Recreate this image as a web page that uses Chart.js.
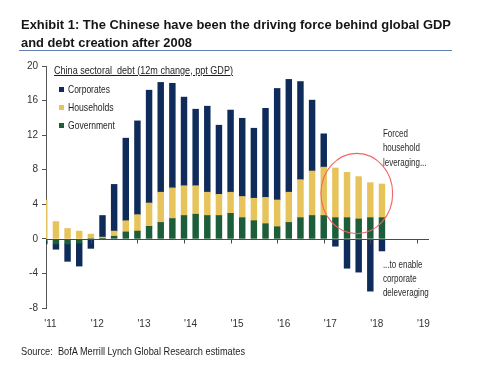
<!DOCTYPE html>
<html><head><meta charset="utf-8">
<script src="https://cdn.jsdelivr.net/npm/chart.js@4.4.1/dist/chart.umd.min.js"></script>
<style>
html,body{margin:0;padding:0;background:#fff;overflow:hidden}
#wrap{position:relative;width:485px;height:365px;background:#fff}
canvas{position:absolute;left:0;top:0}
.t{position:absolute;white-space:pre;transform-origin:0 0;line-height:1;font-family:'Liberation Sans Narrow','Arial Narrow','Liberation Sans',Arial,sans-serif;color:#1e1e1e}
.sq{position:absolute;width:5.3px;height:5.3px}
#rule{position:absolute;left:19px;top:49.5px;width:433px;height:1.5px;background:#6282b6}
</style></head><body>
<div id="wrap">
<canvas id="c" width="485" height="365"></canvas>
<div class="t" id="title1" style="left:20.7px;top:17.6px;font-size:13.5px;font-weight:bold;color:#161616">Exhibit 1: The Chinese have been the driving force behind global GDP</div>
<div class="t" id="title2" style="left:20.7px;top:35.6px;font-size:13.5px;font-weight:bold;color:#161616">and debt creation after 2008</div>
<div id="rule"></div>
<div class="t" id="sub" style="left:54.3px;top:64.7px;font-size:11px;text-decoration:underline">China sectoral  debt (12m change, ppt GDP)</div>
<div id="legend"></div>
<div class="t" id="src" style="left:20.7px;top:346.1px;font-size:10.5px">Source:  BofA Merrill Lynch Global Research estimates</div>
</div>
<script>
// ---- data ----
const periods = ['2010Q4','2011Q1','2011Q2','2011Q3','2011Q4','2012Q1','2012Q2','2012Q3','2012Q4','2013Q1','2013Q2','2013Q3','2013Q4','2014Q1','2014Q2','2014Q3','2014Q4','2015Q1','2015Q2','2015Q3','2015Q4','2016Q1','2016Q2','2016Q3','2016Q4','2017Q1','2017Q2','2017Q3','2017Q4','2018Q1'];
const government = [-0.3,-0.6,-0.6,-0.5,0,0.05,0.3,0.8,0.9,1.45,1.9,2.35,2.7,2.85,2.7,2.7,2.95,2.45,2.1,1.75,1.4,1.9,2.45,2.7,2.7,2.45,2.45,2.3,2.45,2.45];
const households = [4.5,2.0,1.2,0.9,0.55,0.15,0.6,1.3,1.9,2.7,3.5,3.55,3.45,3.3,2.7,2.45,2.45,2.45,2.6,3.05,3.1,3.5,4.4,5.15,5.6,5.75,5.25,4.9,4.05,3.9];
const corporates = [-0.3,-0.6,-2.0,-2.65,-1.1,2.5,5.4,9.55,10.85,13.05,12.7,12.1,10.25,8.85,9.95,8.0,9.5,9.05,8.1,10.3,12.9,13.05,11.35,8.2,3.85,-0.85,-3.4,-3.85,-6.05,-1.4];
const tickYears = [2011,2012,2013,2014,2015,2016,2017,2018,2019];
const xTickLabels = ["'11","'12","'13","'14","'15","'16","'17","'18","'19"];
const yTicks = [-8,-4,0,4,8,12,16,20];
const seriesNames = ['Government','Households','Corporates'];
const seriesColors = ['#1d5d39','#e7c35b','#0e2b5a'];
const noteTop = ['Forced','household','leveraging...'];
const noteBottom = ['...to enable','corporate','deleveraging'];
// highlight ellipse (data units)
const circleCenter = {x: 2017.71, y: 5.24};
const circleRadius = {x: 0.77, y: 4.65};

const FONT = "'Liberation Sans Narrow','Arial Narrow','Liberation Sans',Arial,sans-serif";
const xVal = p => parseInt(p.slice(0,4)) + parseInt(p.slice(5))/4;
const mk = arr => arr.map((v,i)=>({x:xVal(periods[i]), y:v}));
const seriesData = [government, households, corporates];

const overlay = {
  id:'overlay',
  afterDatasetsDraw(chart){
    const {ctx, scales:{x,y}, chartArea:a} = chart;
    ctx.save();
    const y0 = Math.round(y.getPixelForValue(0)) + 0.5;
    ctx.strokeStyle = '#4a4a4a'; ctx.lineWidth = 1;
    ctx.beginPath(); ctx.moveTo(a.left, y0); ctx.lineTo(a.right, y0); ctx.stroke();
    tickYears.forEach(v=>{
      const px = Math.round(x.getPixelForValue(v)) + 0.5;
      if (px < a.left + 2) return;
      ctx.beginPath(); ctx.moveTo(px, y0); ctx.lineTo(px, y0 + 4); ctx.stroke();
    });
    // ellipse
    const cx = x.getPixelForValue(circleCenter.x), cy = y.getPixelForValue(circleCenter.y);
    const rx = Math.abs(x.getPixelForValue(circleCenter.x + circleRadius.x) - cx);
    const ry = Math.abs(y.getPixelForValue(circleCenter.y + circleRadius.y) - cy);
    ctx.strokeStyle = '#f26464'; ctx.lineWidth = 1.1;
    ctx.beginPath(); ctx.ellipse(cx, cy, rx, ry, 0, 0, Math.PI*2); ctx.stroke();
    // notes (condensed to match narrow face)
    ctx.fillStyle = '#2a2a2a'; ctx.font = '11.5px ' + FONT; ctx.textBaseline = 'alphabetic'; ctx.textAlign = 'left';
    const sx = 37 / ctx.measureText('household').width;
    const nx = x.getPixelForValue(2018.27);
    const draw = (t, px, py) => { ctx.save(); ctx.translate(px, py); ctx.scale(sx, 1); ctx.fillText(t, 0, 0); ctx.restore(); };
    let by = y.getPixelForValue(11.82);
    noteTop.forEach((t,i)=> draw(t, nx, by + i*14.5));
    by = y.getPixelForValue(-3.40);
    noteBottom.forEach((t,i)=> draw(t, nx, by + i*13.8));
    ctx.restore();
  }
};

const chart = new Chart(document.getElementById('c'), {
  type:'bar',
  data:{
    datasets: seriesNames.map((n,i)=>({
      label:n, data: mk(seriesData[i]), backgroundColor: seriesColors[i],
      borderWidth:0, barThickness:5.8, clip:0
    }))
  },
  options:{
    responsive:false, animation:false,
    layout:{padding:{top:66,left:0,right:56,bottom:27}},
    plugins:{legend:{display:false}, tooltip:{enabled:false}, title:{display:false}},
    scales:{
      x:{type:'linear', stacked:true, offset:false, min:2011.037, max:2019.26,
        grid:{display:false, offset:false, drawTicks:false, tickLength:0}, border:{display:false},
        afterBuildTicks: s => { s.ticks = tickYears.map(v=>({value:v})); },
        afterFit: s => { s.height = 30; },
        ticks:{align:'start', padding:10, autoSkip:false, maxRotation:0, color:'#333',
          font:{family:FONT, size:10},
          callback:(v)=>{ const i = tickYears.indexOf(Math.round(v)); return i>=0 ? xTickLabels[i] : ''; }}
      },
      y:{stacked:true, min:-8, max:20,
        afterBuildTicks: s => { s.ticks = yTicks.map(v=>({value:v})); },
        afterFit: s => { s.width = 46; },
        grid:{drawOnChartArea:false, color:'#555', tickLength:4, tickWidth:1},
        border:{display:true, color:'#555', width:1},
        ticks:{padding:4, color:'#333', font:{family:FONT, size:10}}
      }
    }
  },
  plugins:[overlay]
});

// legend (reverse stack order)
const lg = document.getElementById('legend');
const rows = [{c:89.3},{c:107.3},{c:125.2}];
[2,1,0].forEach((di,r)=>{
  const ds = chart.data.datasets[di];
  const sq = document.createElement('div'); sq.className='sq';
  sq.style.left='59px'; sq.style.top=(rows[r].c-2.65)+'px'; sq.style.background=ds.backgroundColor;
  lg.appendChild(sq);
  const tx = document.createElement('div'); tx.className='t'; tx.id='lg'+r;
  tx.style.left='67.7px'; tx.style.top=(rows[r].c-5.6)+'px'; tx.style.fontSize='11px';
  tx.textContent = ds.label; lg.appendChild(tx);
});

function fit(id, w){ const el=document.getElementById(id); const cw=el.getBoundingClientRect().width; if(cw>0) el.style.transform='scaleX('+(w/cw)+')'; }
fit('title1', 430); fit('title2', 171); fit('sub', 179); fit('src', 224);
fit('lg0', 42); fit('lg1', 45.7); fit('lg2', 47);
</script>
</body></html>
